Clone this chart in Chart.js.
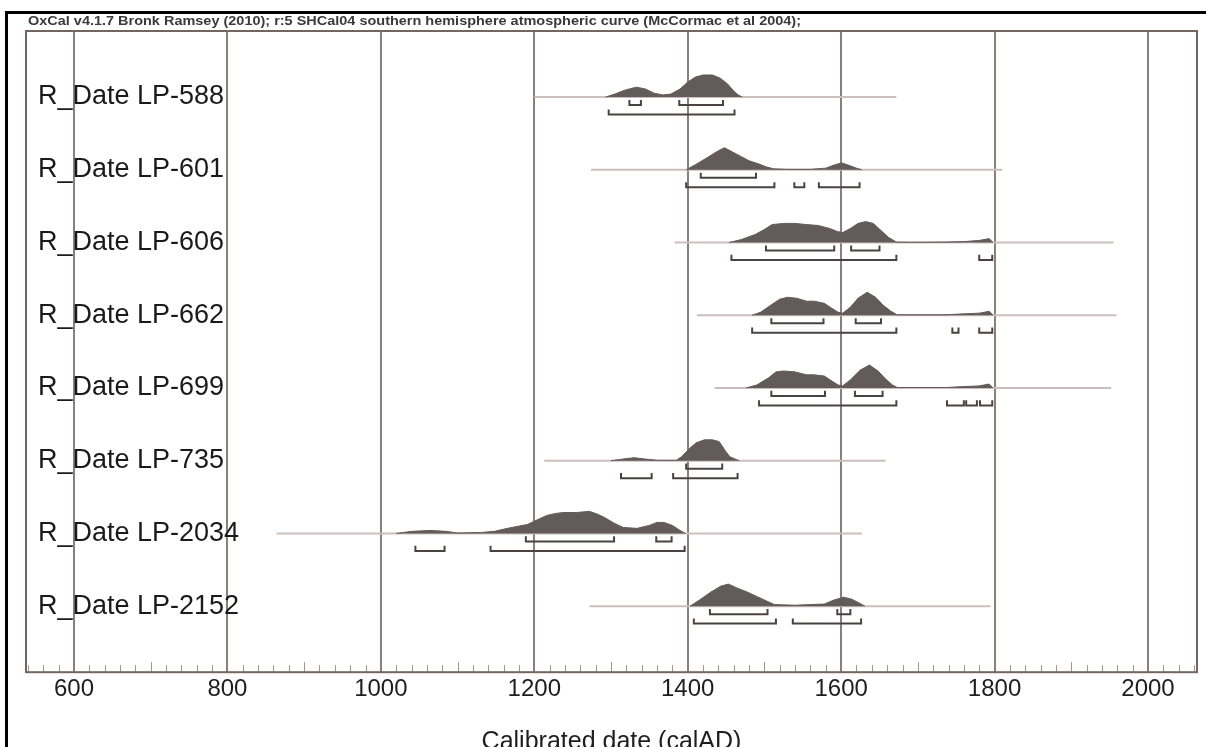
<!DOCTYPE html>
<html>
<head>
<meta charset="utf-8">
<script src="https://cdn.jsdelivr.net/npm/chart.js@4.4.1/dist/chart.umd.min.js"></script>
<style>
  html, body { margin: 0; padding: 0; background: #fff; }
  canvas { display: block; }
</style>
</head>
<body>
<canvas id="chart" width="1206" height="747"></canvas>
<script>
const HEADER = 'OxCal v4.1.7 Bronk Ramsey (2010); r:5 SHCal04 southern hemisphere atmospheric curve (McCormac et al 2004);';
const X_TITLE = 'Calibrated date (calAD)';
const xTicks = [600, 800, 1000, 1200, 1400, 1600, 1800, 2000];

const sampleNames = ['R_Date LP-588', 'R_Date LP-601', 'R_Date LP-606', 'R_Date LP-662',
                     'R_Date LP-699', 'R_Date LP-735', 'R_Date LP-2034', 'R_Date LP-2152'];

// extent of the thin line under each distribution (calAD)
const lineSpans = [[1200, 1672], [1274, 1810], [1383, 1955], [1412, 1959],
                   [1435, 1952], [1213, 1658], [864, 1627], [1272, 1795]];

// posterior density, relative probability (1 = tallest peak)
const years588 = [1293, 1305, 1318, 1333, 1345, 1356, 1368, 1378, 1390, 1400, 1410, 1420, 1432, 1442, 1452, 1460, 1466, 1471];
const prob588  = [0, .13, .3, .43, .35, .17, .09, .13, .35, .65, .87, .96, .96, .83, .57, .26, .09, 0];

const years601 = [1398, 1410, 1425, 1440, 1448, 1458, 1470, 1480, 1492, 1502, 1512, 1530, 1560, 1580, 1592, 1601, 1612, 1620, 1627];
const prob601  = [0, .22, .52, .83, .96, .78, .57, .39, .26, .13, .04, .02, .02, .07, .22, .3, .17, .07, 0];

const years606 = [1454, 1470, 1488, 1500, 1510, 1525, 1540, 1555, 1570, 1585, 1595, 1602, 1612, 1622, 1632, 1642, 1652, 1662, 1672, 1690, 1737, 1760, 1780, 1793, 1798];
const prob606  = [0, .13, .35, .57, .78, .83, .83, .78, .74, .61, .48, .43, .61, .83, .91, .83, .52, .22, .02, .01, .02, .04, .09, .17, 0];

const years662 = [1484, 1495, 1508, 1520, 1530, 1542, 1555, 1565, 1578, 1588, 1596, 1602, 1612, 1622, 1634, 1645, 1655, 1665, 1673, 1737, 1760, 1780, 1793, 1798];
const prob662  = [0, .13, .43, .7, .78, .74, .61, .61, .52, .3, .13, .09, .35, .74, 1, .78, .43, .17, .02, .02, .06, .09, .17, 0];

const years699 = [1476, 1490, 1505, 1515, 1525, 1540, 1555, 1565, 1578, 1588, 1596, 1602, 1612, 1625, 1637, 1648, 1658, 1667, 1673, 1737, 1760, 1780, 1793, 1798];
const prob699  = [0, .13, .43, .7, .74, .7, .57, .57, .52, .3, .13, .09, .35, .78, 1, .74, .39, .13, .02, .02, .06, .09, .17, 0];

const years735 = [1300, 1315, 1330, 1345, 1360, 1385, 1392, 1402, 1411, 1422, 1432, 1441, 1449, 1455, 1462, 1467];
const prob735  = [0, .07, .13, .07, .02, .02, .17, .52, .78, .91, .91, .83, .43, .17, .07, 0];

const years2034 = [1020, 1040, 1064, 1085, 1100, 1130, 1148, 1165, 1191, 1205, 1216, 1228, 1238, 1255, 1272, 1283, 1291, 1305, 1316, 1334, 1350, 1360, 1369, 1380, 1390, 1397];
const prob2034  = [0, .09, .13, .09, .02, .04, .09, .22, .39, .61, .78, .87, .91, .91, .96, .83, .7, .43, .26, .22, .35, .48, .48, .35, .13, 0];

const years2152 = [1403, 1415, 1430, 1443, 1453, 1465, 1478, 1492, 1503, 1513, 1540, 1560, 1578, 1590, 1603, 1614, 1624, 1631];
const prob2152  = [0, .26, .61, .87, .96, .78, .61, .39, .22, .07, .04, .07, .09, .26, .39, .3, .13, 0];

const densityYears = [years588, years601, years606, years662, years699, years735, years2034, years2152];
const densityProb  = [prob588, prob601, prob606, prob662, prob699, prob735, prob2034, prob2152];

// highest probability ranges (calAD)
const range68 = [
  [[1324, 1339], [1389, 1446]],
  [[1417, 1489]],
  [[1502, 1591], [1613, 1650]],
  [[1509, 1577], [1619, 1652]],
  [[1509, 1579], [1618, 1654]],
  [[1398, 1445]],
  [[1189, 1304], [1359, 1379]],
  [[1429, 1504], [1595, 1612]]
];
const range95 = [
  [[1297, 1461]],
  [[1398, 1513], [1539, 1552], [1571, 1624]],
  [[1457, 1672], [1780, 1797]],
  [[1484, 1672], [1745, 1753], [1780, 1797]],
  [[1493, 1672], [1738, 1760], [1763, 1777], [1781, 1797]],
  [[1313, 1353], [1381, 1465]],
  [[1045, 1083], [1143, 1396]],
  [[1408, 1515], [1537, 1626]]
];

// --- look ---
const FONT = '"Liberation Sans", Arial, Helvetica, sans-serif';
const FILL = '#625b59';
const BASELINE = '#cbbfbb';
const BRACKET = '#4a4342';
const GRID = '#8c7f7a';
const PEAK = 0.316;      // row units for a probability of 1
const OFF68 = 0.11, OFF95 = 0.24, TICK_UP = 0.07;

const datasets = [];

sampleNames.forEach((name, row) => {
  datasets.push({
    label: name,
    data: densityYears[row].map((yr, k) => ({ x: yr, y: row - densityProb[row][k] * PEAK })),
    borderColor: FILL, backgroundColor: FILL, borderWidth: 1,
    fill: { value: row }, pointRadius: 0, tension: 0, order: 2
  });

  datasets.push({
    label: name + ' line',
    data: lineSpans[row].map(yr => ({ x: yr, y: row })),
    borderColor: BASELINE, borderWidth: 2, pointRadius: 0, fill: false, order: 3
  });

  const addBracket = (r, off) => {
    const yb = row + off;
    datasets.push({
      label: name + ' range',
      data: [{ x: r[0], y: yb - TICK_UP }, { x: r[0], y: yb }, { x: r[1], y: yb }, { x: r[1], y: yb - TICK_UP }],
      borderColor: BRACKET, borderWidth: 2, pointRadius: 0, fill: false, order: 1
    });
  };
  range68[row].forEach(r => addBracket(r, OFF68));
  range95[row].forEach(r => addBracket(r, OFF95));
});

const decor = {
  id: 'decor',
  afterDraw(chart) {
    const { ctx, chartArea: a, scales } = chart;
    ctx.save();

    // minor ticks along the bottom
    ctx.strokeStyle = '#a0958f';
    ctx.lineWidth = 1;
    for (let yr = 540; yr <= 2060; yr += 20) {
      if (yr % 200 === 0) continue;
      const px = Math.round(scales.x.getPixelForValue(yr)) + 0.5;
      ctx.beginPath();
      ctx.moveTo(px, a.bottom);
      ctx.lineTo(px, a.bottom - (yr % 100 === 0 ? 10 : 7));
      ctx.stroke();
    }

    // plot box
    ctx.strokeStyle = '#74665f';
    ctx.lineWidth = 2;
    ctx.strokeRect(a.left, a.top, a.right - a.left, a.bottom - a.top);

    // outer frame
    ctx.fillStyle = '#000';
    ctx.fillRect(5, 11, 1201, 3);
    ctx.fillRect(5, 11, 3, 736);

    // sample labels
    ctx.fillStyle = '#1a1a1a';
    ctx.font = '27px ' + FONT;
    ctx.textBaseline = 'middle';
    ctx.textAlign = 'left';
    sampleNames.forEach((name, row) => {
      ctx.fillText(name, a.left + 12, scales.y.getPixelForValue(row));
    });

    // header line
    ctx.font = 'bold 13px ' + FONT;
    ctx.fillStyle = '#3a3a3a';
    const w = ctx.measureText(HEADER).width;
    ctx.translate(a.left + 2, 21);
    ctx.scale(773 / w, 1);
    ctx.fillText(HEADER, 0, 0);
    ctx.restore();
  }
};

new Chart(document.getElementById('chart'), {
  type: 'line',
  data: { datasets },
  options: {
    responsive: false,
    animation: false,
    layout: { padding: { left: 26, right: 9, top: 31, bottom: 0 } },
    plugins: { legend: { display: false }, tooltip: { enabled: false } },
    scales: {
      x: {
        type: 'linear', min: 537.4, max: 2063.9,
        afterBuildTicks: scale => { scale.ticks = xTicks.map(v => ({ value: v })); },
        grid: { color: GRID, lineWidth: 2, drawTicks: false },
        border: { display: false },
        ticks: {
          font: { family: FONT, size: 24 }, color: '#1e1e1e', padding: 3,
          maxRotation: 0, autoSkip: false, callback: v => String(v)
        },
        title: {
          display: true, text: X_TITLE, color: '#1e1e1e',
          font: { family: FONT, size: 25, lineHeight: 0.4 },
          padding: { top: 30, bottom: 0 }
        }
      },
      y: { type: 'linear', display: false, reverse: true, min: -0.908, max: 7.908 }
    }
  },
  plugins: [decor]
});
</script>
</body>
</html>
